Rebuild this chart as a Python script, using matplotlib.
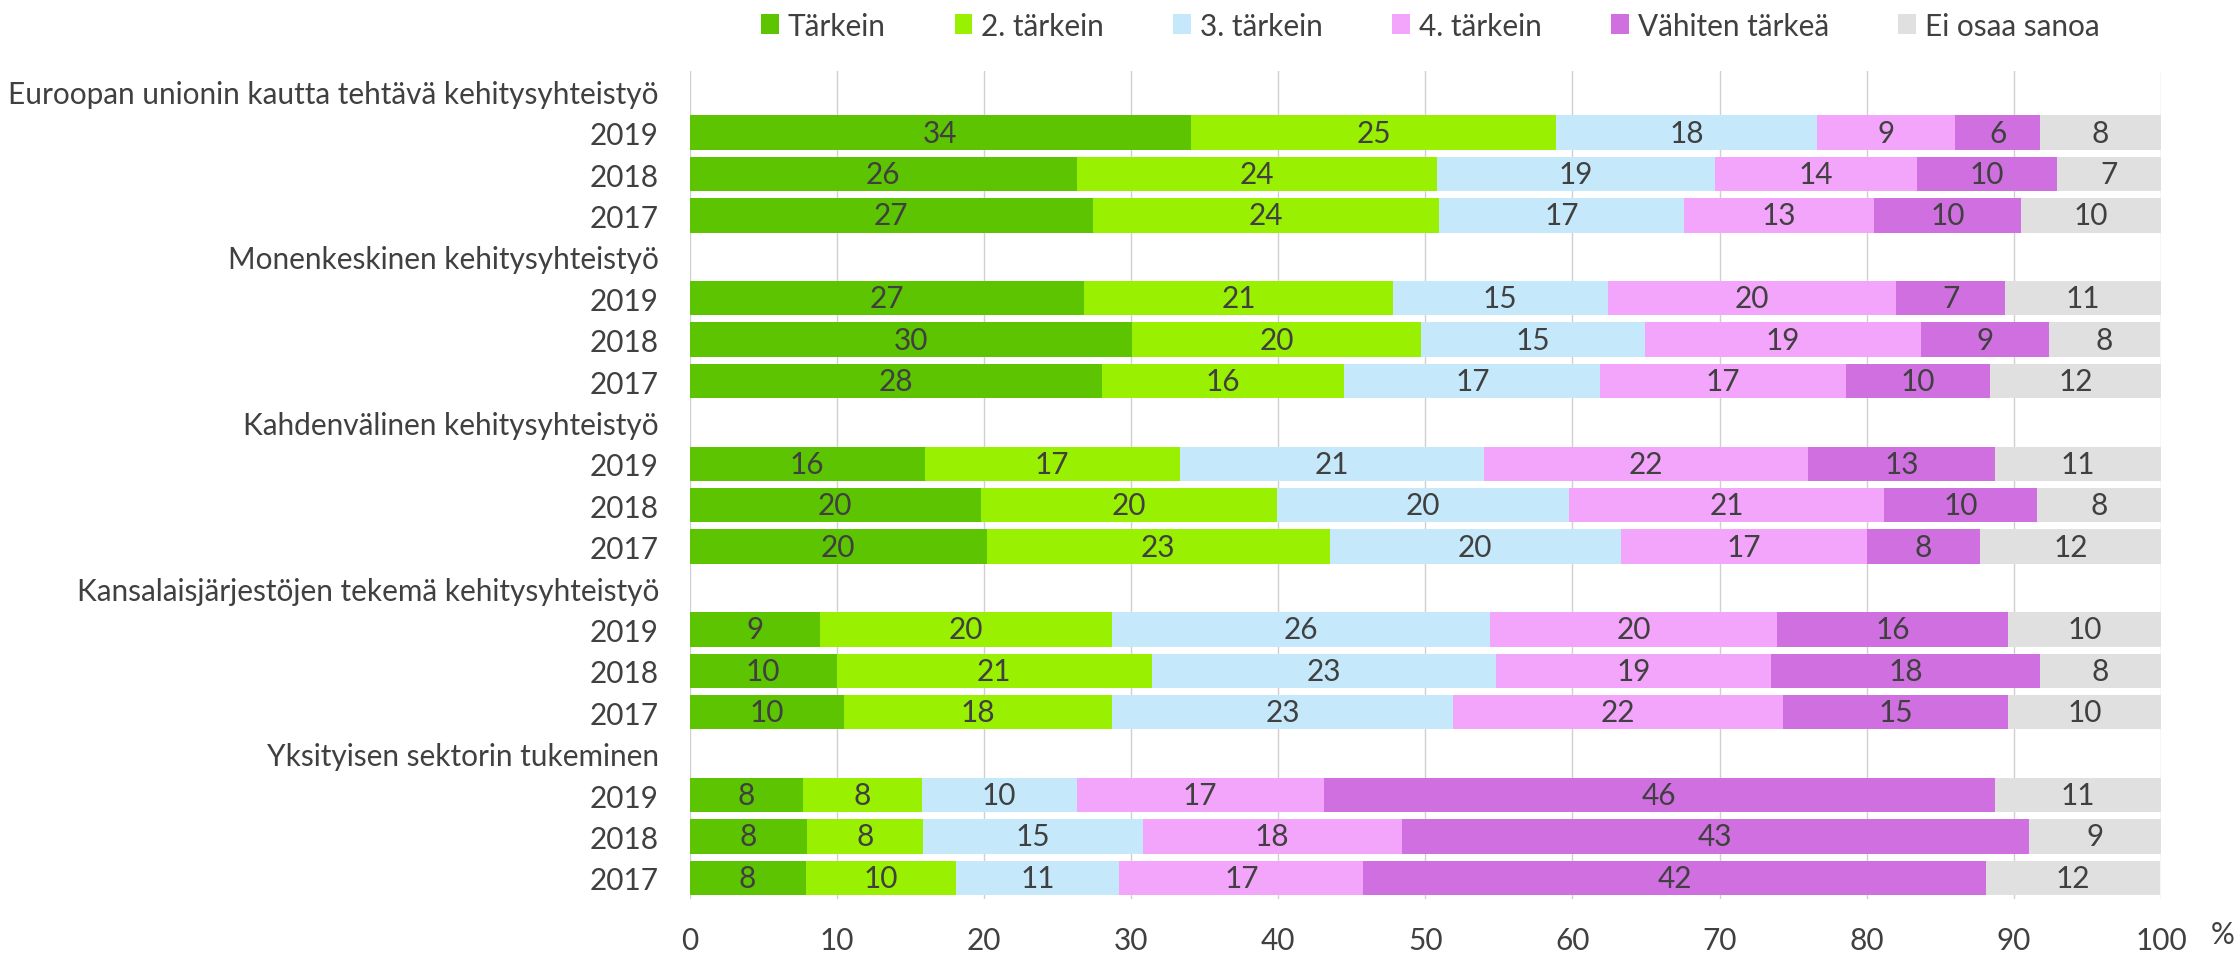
import matplotlib
matplotlib.use("Agg")
import matplotlib.pyplot as plt
from matplotlib.patches import Patch

groups = ["Euroopan unionin kautta tehtävä kehitysyhteistyö",
          "Monenkeskinen kehitysyhteistyö",
          "Kahdenvälinen kehitysyhteistyö",
          "Kansalaisjärjestöjen tekemä kehitysyhteistyö",
          "Yksityisen sektorin tukeminen"]
years = ["2019", "2018", "2017"]
series = ["Tärkein", "2. tärkein", "3. tärkein", "4. tärkein", "Vähiten tärkeä", "Ei osaa sanoa"]

# segment widths (rows: group x year, top to bottom)
tarkein = [34.1, 26.3, 27.4, 26.8, 30.1, 28.0, 16.0, 19.8, 20.2, 8.9, 10.0, 10.5, 7.7, 8.0, 7.9]
tarkein2 = [24.8, 24.5, 23.5, 21.0, 19.6, 16.5, 17.3, 20.1, 23.3, 19.8, 21.4, 18.2, 8.1, 7.9, 10.2]
tarkein3 = [17.7, 18.9, 16.7, 14.6, 15.2, 17.4, 20.7, 19.9, 19.8, 25.7, 23.4, 23.2, 10.5, 14.9, 11.1]
tarkein4 = [9.4, 13.7, 12.9, 19.6, 18.8, 16.7, 22.0, 21.4, 16.7, 19.5, 18.7, 22.4, 16.8, 17.6, 16.6]
vahiten = [5.8, 9.5, 10.0, 7.4, 8.7, 9.8, 12.7, 10.4, 7.7, 15.7, 18.3, 15.3, 45.6, 42.6, 42.3]
eos = [8.2, 7.1, 9.5, 10.6, 7.5, 11.6, 11.3, 8.4, 12.3, 10.4, 8.2, 10.4, 11.3, 9.0, 11.8]

# data labels as shown
lab_tarkein = [34, 26, 27, 27, 30, 28, 16, 20, 20, 9, 10, 10, 8, 8, 8]
lab_tarkein2 = [25, 24, 24, 21, 20, 16, 17, 20, 23, 20, 21, 18, 8, 8, 10]
lab_tarkein3 = [18, 19, 17, 15, 15, 17, 21, 20, 20, 26, 23, 23, 10, 15, 11]
lab_tarkein4 = [9, 14, 13, 20, 19, 17, 22, 21, 17, 20, 19, 22, 17, 18, 17]
lab_vahiten = [6, 10, 10, 7, 9, 10, 13, 10, 8, 16, 18, 15, 46, 43, 42]
lab_eos = [8, 7, 10, 11, 8, 12, 11, 8, 12, 10, 8, 10, 11, 9, 12]

xticks = [0, 10, 20, 30, 40, 50, 60, 70, 80, 90, 100]

colors = ["#5cc400", "#99f000", "#c5e8fb", "#f3a4fb", "#cf6fe0", "#e0e0e0"]
text_color = "#404040"
FONT = "Lato"
FS = 21.4

plt.rcParams['font.family'] = [FONT, 'DejaVu Sans']

fig = plt.figure(figsize=(22.38, 9.54), dpi=100)
ax = fig.add_axes([0.3081, 0.0571, 0.9656 - 0.3081, 0.925 - 0.0571])

# row positions
ylabels = []
bar_y = []
pos = 0
for g in groups:
    ylabels.append(g)
    pos += 1
    for yr in years:
        ylabels.append(yr)
        bar_y.append(pos)
        pos += 1
nrows = pos

all_vals = [tarkein, tarkein2, tarkein3, tarkein4, vahiten, eos]
all_labs = [lab_tarkein, lab_tarkein2, lab_tarkein3, lab_tarkein4, lab_vahiten, lab_eos]

left = [0.0] * len(bar_y)
for vals, labs, col, name in zip(all_vals, all_labs, colors, series):
    ax.barh(bar_y, vals, left=left, height=0.83, color=col, edgecolor='none', label=name, zorder=2)
    for y, l, v, lab in zip(bar_y, left, vals, labs):
        ax.text(l + v / 2, y, str(lab), ha='center', va='center', fontsize=FS, color=text_color, zorder=3)
    left = [a + b for a, b in zip(left, vals)]

ax.set_ylim(nrows - 0.5, -0.5)
ax.set_xlim(0, 100)
ax.set_yticks(range(nrows))
ax.set_yticklabels(ylabels, fontsize=FS, color=text_color)
ax.set_xticks(xticks)
ax.set_xticklabels([str(t) for t in xticks], fontsize=FS, color=text_color)
ax.tick_params(axis='both', length=0)
ax.tick_params(axis='y', pad=22)
ax.tick_params(axis='x', pad=20)
for s in ax.spines.values():
    s.set_visible(False)
for t in xticks:
    ax.axvline(t, color="#d0d0d0", linewidth=1.0, zorder=1)

handles = [Patch(facecolor=c, edgecolor='none', label=n) for c, n in zip(colors, series)]
fig.legend(handles=handles, loc='center', bbox_to_anchor=(0.639, 0.972), ncol=6, frameon=False,
           fontsize=FS, handlelength=0.6, handleheight=0.65, handletextpad=0.3,
           columnspacing=2.33, labelcolor=text_color)

fig.text(0.9933, 0.02, "%", fontsize=FS, color=text_color, ha='center', va='center')

fig.savefig("out.png", dpi=100)
